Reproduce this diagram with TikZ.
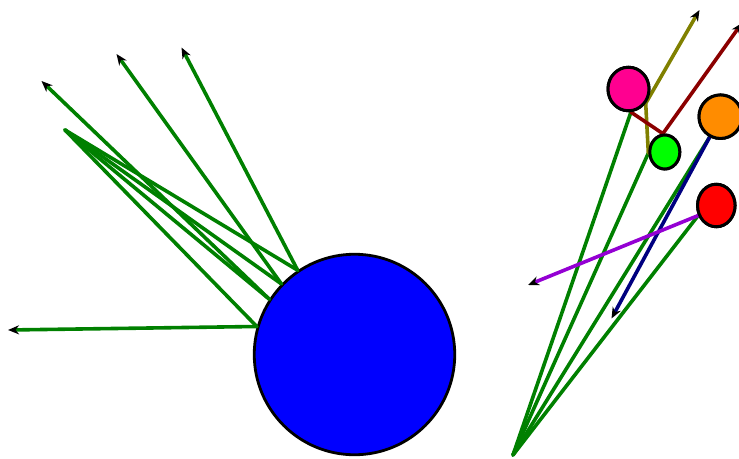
\documentclass[tikz,border=0pt]{standalone}
\usetikzlibrary{arrows.meta,shapes.geometric}
\definecolor{raygreen}{RGB}{0,128,0}
\definecolor{ballmag}{RGB}{255,0,144}
\definecolor{ballorg}{RGB}{255,140,0}
\definecolor{rayolive}{RGB}{128,128,0}
\definecolor{raydred}{RGB}{139,0,0}
\definecolor{raynavy}{RGB}{0,0,128}
\definecolor{raypurp}{RGB}{148,0,211}
\tikzset{
  ray/.style={line width=3.6pt, line cap=round, line join=round},
  tipped/.style={-{Stealth[black,length=11pt,width=9pt,inset=3.5pt]}},
  ball/.style={ellipse, draw=black, line width=3pt, inner sep=0pt},
}
\begin{document}
\begin{tikzpicture}[x=1pt,y=-1pt]
\useasboundingbox (0,0) rectangle (739,458);
% ---------- left part ----------
\node[circle, draw=black, fill=blue, line width=2.8pt, inner sep=0pt, minimum size=200.5pt] (big) at (354.5,354.5) {};
\coordinate (S) at (65,130);
\coordinate (a1) at (181.5,47.5);
\coordinate (a2) at (116.5,54);
\coordinate (a3) at (41.5,81);
\coordinate (a4) at (8,330);
\foreach \ang in {124.9,136.2,147.8,164.9}{
  \draw[ray, raygreen] (S) -- (big.\ang);
}
\draw[ray, raygreen, tipped] (big.124.9) -- (a1);
\draw[ray, raygreen, tipped] (big.136.2) -- (a2);
\draw[ray, raygreen, tipped] (big.147.8) -- (a3);
\draw[ray, raygreen, tipped] (big.164.9) -- (a4);
% ---------- right part ----------
\coordinate (T) at (513,455);
\node[ball, fill=ballmag, minimum width=41pt, minimum height=43.5pt] (mag) at (628.5,89) {};
\node[ball, fill=green, minimum width=30pt, minimum height=34pt] (grn) at (664.8,152) {};
\node[ball, fill=ballorg, minimum width=43pt, minimum height=43.5pt] (org) at (720.5,116.7) {};
\node[ball, fill=red, minimum width=37.5pt, minimum height=42.5pt] (red) at (716.3,205.5) {};
\coordinate (bend) at (645.7,103.3);
\coordinate (b1) at (699.5,10);
\coordinate (b2) at (742,23);
\coordinate (b3) at (611.5,318.5);
\coordinate (b4) at (528,285);
\draw[ray, raygreen] (T) -- (mag.-84);
\draw[ray, raygreen] (T) -- (grn.184);
\draw[ray, raygreen] (T) -- (org.-118);
\draw[ray, raygreen] (T) -- (red.209);
\draw[ray, rayolive, tipped] (grn.184) -- (bend) -- (b1);
\draw[ray, raydred, tipped] (mag.-84) -- (grn.96) -- (b2);
\draw[ray, raynavy, tipped] (org.-118) -- (b3);
\draw[ray, raypurp, tipped] (red.209) -- (b4);
% balls drawn again on top of the rays
\node[ball, fill=ballmag, minimum width=41pt, minimum height=43.5pt] at (mag) {};
\node[ball, fill=green, minimum width=30pt, minimum height=34pt] at (grn) {};
\node[ball, fill=ballorg, minimum width=43pt, minimum height=43.5pt] at (org) {};
\node[ball, fill=red, minimum width=37.5pt, minimum height=42.5pt] at (red) {};
\end{tikzpicture}
\end{document}
